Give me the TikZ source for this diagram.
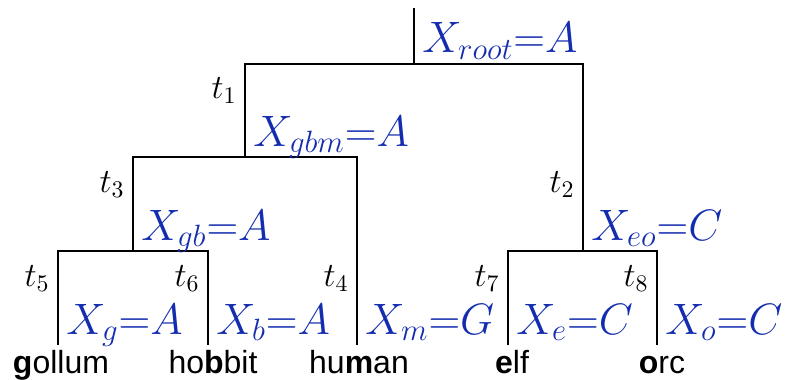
\RequirePackage{fix-cm}
\documentclass[tikz,border=0pt]{standalone}
\usepackage{fontspec}
\setsansfont{Liberation Sans}
\usetikzlibrary{calc}
\definecolor{stateblue}{RGB}{20,45,175}
\tikzset{
  branch/.style={draw=black, line width=1pt},
  tlabel/.style={font=\fontsize{17}{19}\selectfont, anchor=base east, inner sep=0pt},
  state/.style={font=\fontsize{22}{25}\selectfont, text=stateblue, anchor=base west, inner sep=0pt},
  leaf/.style={font=\sffamily\fontsize{16}{18}\selectfont, anchor=base, inner sep=0pt}
}
\begin{document}
\begin{tikzpicture}[x=0.5pt, y=-0.5pt]
\useasboundingbox (0,0) rectangle (788,380);
% inner nodes
\coordinate (top) at (414,8);
\coordinate (root) at (414,64);
\coordinate (gbm) at (245,157);
\coordinate (gb) at (133,251);
\coordinate (eo) at (583,251);
% leaves
\coordinate (g) at (58,345);
\coordinate (b) at (208,345);
\coordinate (m) at (357,345);
\coordinate (e) at (508,345);
\coordinate (o) at (657,345);
\node[leaf] (wg) at (61,373) {\textbf{g}ollum};
\node[leaf] (wb) at (213,373) {ho\textbf{b}bit};
\node[leaf] (wm) at (359,373) {hu\textbf{m}an};
\node[leaf] (we) at (512,373) {\textbf{e}lf};
\node[leaf] (wo) at (662,373) {\textbf{o}rc};
% branches
\draw[branch] (top) -- (root);
\draw[branch] (root) -| (gbm); \draw[branch] (root) -| (eo);
\draw[branch] (gbm) -| (gb); \draw[branch] (gbm) -| (m);
\draw[branch] (gb) -| (g); \draw[branch] (gb) -| (b);
\draw[branch] (eo) -| (e); \draw[branch] (eo) -| (o);
% branch names
\node[tlabel] (t1) at ($(gbm)+(-8,-59)$) {$t_1$};
\node[tlabel] (t2) at ($(eo)+(-8,-59)$) {$t_2$};
\node[tlabel] (t3) at ($(gb)+(-8,-59)$) {$t_3$};
\node[tlabel] (t4) at ($(m)+(-8,-59)$) {$t_4$};
\node[tlabel] (t5) at ($(g)+(-8,-59)$) {$t_5$};
\node[tlabel] (t6) at ($(b)+(-8,-59)$) {$t_6$};
\node[tlabel] (t7) at ($(e)+(-8,-59)$) {$t_7$};
\node[tlabel] (t8) at ($(o)+(-8,-59)$) {$t_8$};
% states
\node[state] (sroot) at ($(root)+(8,-11)$) {$X_{root}{=}A$};
\node[state] (sgbm) at ($(gbm)+(8,-11)$) {$X_{gbm}{=}A$};
\node[state] (sgb) at ($(gb)+(8,-11)$) {$X_{gb}{=}A$};
\node[state] (seo) at ($(eo)+(8,-11)$) {$X_{eo}{=}C$};
\node[state] (sg) at ($(g)+(8,-11)$) {$X_{g}{=}A$};
\node[state] (sb) at ($(b)+(8,-11)$) {$X_{b}{=}A$};
\node[state] (sm) at ($(m)+(8,-11)$) {$X_{m}{=}G$};
\node[state] (se) at ($(e)+(8,-11)$) {$X_{e}{=}C$};
\node[state] (so) at ($(o)+(8,-11)$) {$X_{o}{=}C$};
\end{tikzpicture}
\end{document}
